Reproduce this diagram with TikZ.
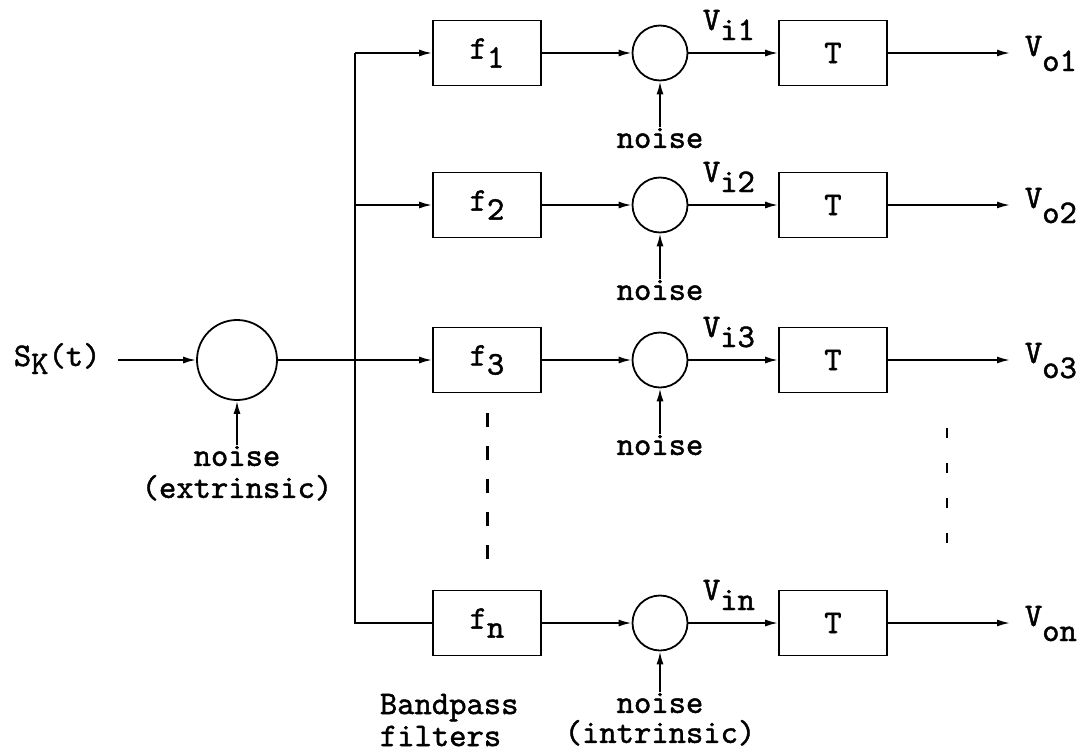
\documentclass[tikz,border=0pt]{standalone}
\usepackage{fontspec}
\setmonofont{lmmono10-regular.otf}[RawFeature={embolden=1.3}]
\usetikzlibrary{arrows.meta}
\newcommand\lowr[2][10pt]{\raisebox{-#1}{#2}}
\begin{document}
\begin{tikzpicture}[x=1pt,y=-1pt,line width=1.8pt,
  every node/.style={font=\ttfamily\fontsize{33}{32}\selectfont,inner sep=0pt},
  blk/.style={draw,minimum width=108pt,minimum height=65pt},
  sm/.style={draw,circle,minimum size=55pt},
  big/.style={draw,circle,minimum size=80pt},
  arr/.style={-{Latex[length=13pt,width=7pt]}},
  dots/.style={line width=3pt,dash pattern=on 14pt off 19pt}]
\useasboundingbox (0,0) rectangle (1090,755);
% input stage
\node[big] (S) at (237,360) {};
\node[anchor=base west] (in) at (13,366) {S\lowr[8pt]{K}(t)};
\draw[arr] (in.east |- S.west) ++(17,0) -- (S.west);
\node[anchor=north,align=center] (ne) at (237,445) {noise\\(extrinsic)};
\draw[arr] (ne.north) -- (S.south);
% channels
\foreach \i/\y in {1/53,2/205,3/360,n/623}{
  \node[blk] (f\i) at (487,\y) {f\lowr[9pt]{\i}};
  \node[sm] (c\i) at (660,\y) {};
  \node[blk] (T\i) at (833,\y) {T};
  \coordinate (o\i) at (1010,\y);
  \draw[arr] (f\i.east) -- (c\i.west);
  \draw[arr] (c\i.east) -- (T\i.west);
  \draw[arr] (T\i.east) -- (o\i);
  \node[anchor=base west] (vi\i) at (702,\y-23) {V\lowr{i\i}};
  \node[anchor=base west] (vo\i) at (1024,\y+3) {V\lowr[15pt]{o\i}};
}
\foreach \i/\y in {1/53,2/205,3/360}{
  \node (n\i) at (660,\y+85) {noise};
  \draw[arr] (n\i.north) -- (c\i.south);
}
\node[anchor=north,align=center,font=\ttfamily\fontsize{33}{30}\selectfont] (nn) at (660,692) {noise\\(intrinsic)};
\draw[arr] (nn.north) -- (cn.south);
% bus
\coordinate (b1) at (355,53);
\coordinate (b2) at (355,205);
\coordinate (bn) at (355,623);
\draw (b1) -- (bn) -- (fn.west);
\draw[arr] (b1) -- (f1.west);
\draw[arr] (b2) -- (f2.west);
\draw[arr] (S.east) -- (f3.west);
% labels and continuation marks
\node[anchor=north west,align=left] (bp) at (379,693) {Bandpass\\filters};
\draw[dots] (487,413) -- (487,559);
\draw[line width=2.5pt,dash pattern=on 10pt off 25pt] (947,428) -- (947,568);
\end{tikzpicture}
\end{document}
